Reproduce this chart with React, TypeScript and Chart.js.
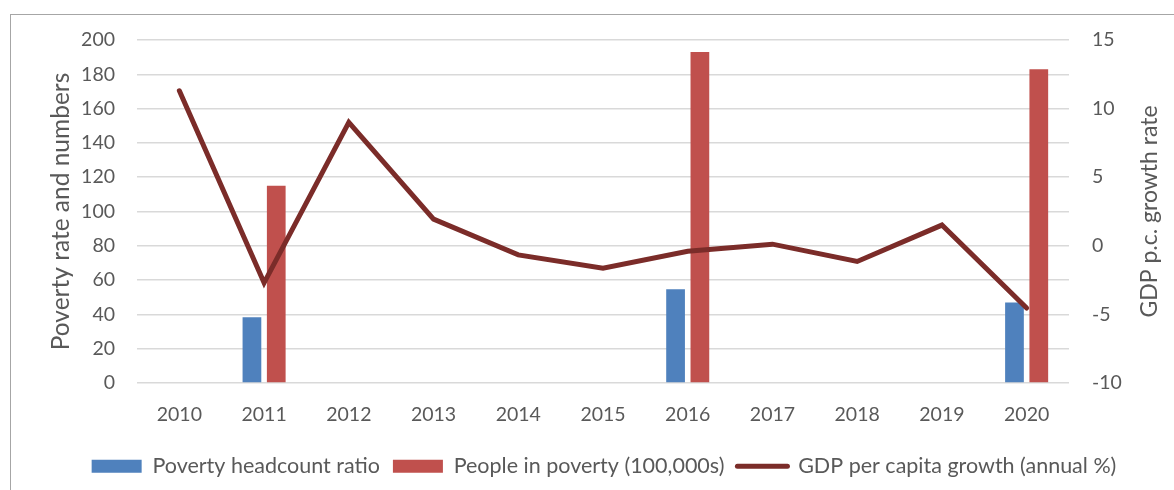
import React, { useEffect, useRef } from "react";
import { Chart, registerables } from "chart.js";

Chart.register(...registerables);

const years = ["2010", "2011", "2012", "2013", "2014", "2015", "2016", "2017", "2018", "2019", "2020"];
const povertyHeadcount = [null, 38.3, null, null, null, null, 54.6, null, null, null, 47.0];
const peopleInPoverty = [null, 115, null, null, null, null, 193, null, null, null, 183];
const gdpGrowth = [11.3, -2.7, 9.0, 1.95, -0.66, -1.63, -0.4, 0.12, -1.14, 1.51, -4.54];

const leftTitle = "Poverty rate and numbers";
const rightTitle = "GDP p.c. growth rate";
const seriesNames = ["Poverty headcount ratio", "People in poverty (100,000s)", "GDP per capita growth (annual %)"];

const FONT = "Lato";
const TEXT = "#595959";
const GRID = "#d9d9d9";
const BLUE = "#4f81bd";
const RED = "#c0504d";
const LINE = "#7b2c29";

const CANVAS_W = 1186;
const CANVAS_H = 475;

export default function App() {
  const ref = useRef<HTMLCanvasElement | null>(null);

  useEffect(() => {
    if (!ref.current) return;
    const rightTitlePlugin = {
      id: "rightTitle",
      afterDraw(chart: any) {
        const { ctx, chartArea } = chart;
        ctx.save();
        ctx.translate(1139, (chartArea.top + chartArea.bottom) / 2);
        ctx.rotate(-Math.PI / 2);
        ctx.font = `23px ${FONT}`;
        ctx.fillStyle = TEXT;
        ctx.textAlign = "center";
        ctx.textBaseline = "middle";
        ctx.fillText(rightTitle, 0, 0);
        ctx.restore();
      },
    };
    const chart = new Chart(ref.current, {
      type: "bar",
      data: {
        labels: years,
        datasets: [
          {
            type: "bar",
            label: seriesNames[0],
            data: povertyHeadcount,
            backgroundColor: BLUE,
            yAxisID: "y",
            order: 2,
            barPercentage: 0.77,
            categoryPercentage: 0.574,
          },
          {
            type: "bar",
            label: seriesNames[1],
            data: peopleInPoverty,
            backgroundColor: RED,
            yAxisID: "y",
            order: 2,
            barPercentage: 0.77,
            categoryPercentage: 0.574,
          },
          {
            type: "line",
            label: seriesNames[2],
            data: gdpGrowth,
            borderColor: LINE,
            backgroundColor: LINE,
            borderWidth: 5,
            pointRadius: 0,
            tension: 0,
            borderCapStyle: "round",
            yAxisID: "y1",
            order: 1,
          },
        ] as any,
      },
      options: {
        responsive: false,
        animation: false,
        layout: { padding: { top: 25, bottom: 3, left: 0, right: 0 } },
        plugins: {
          tooltip: { enabled: false },
          legend: {
            position: "bottom",
            labels: {
              usePointStyle: true,
              pointStyleWidth: 50,
              boxWidth: 50,
              boxHeight: 13,
              padding: 13,
              color: TEXT,
              font: { family: FONT, size: 21.5 },
              generateLabels: (c: any) =>
                c.data.datasets.map((ds: any, i: number) => ({
                  text: ds.label,
                  fillStyle: i === 2 ? LINE : ds.backgroundColor,
                  strokeStyle: i === 2 ? LINE : ds.backgroundColor,
                  lineWidth: i === 2 ? 5 : 0,
                  lineCap: "round",
                  pointStyle: i === 2 ? "line" : "rect",
                  hidden: false,
                  datasetIndex: i,
                  fontColor: TEXT,
                })),
            },
          },
        },
        scales: {
          x: {
            grid: { display: false },
            border: { display: false },
            ticks: { color: TEXT, font: { family: FONT, size: 19.5 }, padding: 12, maxRotation: 0 },
            afterFit: (s: any) => {
              s.height = 59.5;
            },
          },
          y: {
            position: "left",
            min: 0,
            max: 200,
            ticks: { stepSize: 20, color: TEXT, font: { family: FONT, size: 19.5 }, padding: 0 },
            grid: { color: GRID, lineWidth: 1.5, drawTicks: true, tickLength: 22, tickColor: "rgba(0,0,0,0)" },
            border: { display: false },
            title: {
              display: true,
              text: leftTitle,
              color: TEXT,
              font: { family: FONT, size: 24.5 },
              padding: { top: 35.3, bottom: 0 },
            },
            afterFit: (s: any) => {
              s.width = 126;
            },
          },
          y1: {
            position: "right",
            min: -10,
            max: 15,
            ticks: { stepSize: 5, color: TEXT, font: { family: FONT, size: 19.5 }, padding: 0 },
            grid: { display: false, drawTicks: true, tickLength: 23 },
            border: { display: false },
            afterFit: (s: any) => {
              s.width = 128;
            },
          },
        },
      } as any,
      plugins: [rightTitlePlugin],
    });
    return () => chart.destroy();
  }, []);

  return (
    <div style={{ position: "fixed", left: 0, top: 0, width: 1174, height: 490, overflow: "hidden", background: "#fff" }}>
      <div
        style={{
          position: "absolute",
          left: 10,
          top: 14,
          width: 1250,
          height: 600,
          border: "1px solid #a6a6a6",
          boxSizing: "border-box",
        }}
      >
        <canvas ref={ref} width={CANVAS_W} height={CANVAS_H} style={{ position: "absolute", left: 0, top: 0, width: CANVAS_W, height: CANVAS_H }} />
      </div>
    </div>
  );
}
